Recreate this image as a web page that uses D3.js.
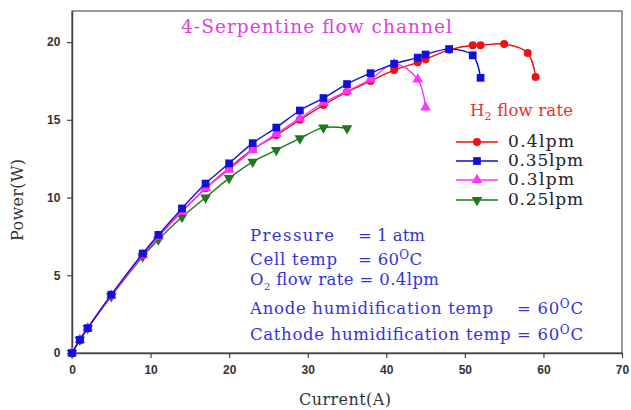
<!DOCTYPE html>
<html><head><meta charset="utf-8">
<script src="https://cdn.jsdelivr.net/npm/d3@7"></script>
<style>body{margin:0;background:#fff}</style>
</head><body>
<svg id="c" width="631" height="410"></svg>
<script>
const xTicks = [0,10,20,30,40,50,60,70];
const yTicks = [0,5,10,15,20];
const current04 = [0,1,2,5,9,11,14,17,20,23,26,29,32,35,38,41,44,45,48,51,52,55,58,59];
const power04 = [0,0.85,1.6,3.7,6.3,7.5,9.1,10.6,11.9,13.1,14.0,15.0,15.95,16.8,17.5,18.2,18.7,18.9,19.5,19.8,19.8,19.87,19.3,17.75];
const current035 = [0,1,2,5,9,11,14,17,20,23,26,29,32,35,38,41,44,45,48,51,52];
const power035 = [0,0.85,1.6,3.75,6.4,7.6,9.3,10.9,12.2,13.5,14.5,15.6,16.4,17.3,18.0,18.6,19.0,19.2,19.55,19.15,17.7];
const current03 = [0,1,2,5,9,11,14,17,20,23,26,29,32,35,38,41,44,45];
const power03 = [0,0.85,1.6,3.7,6.3,7.5,9.1,10.6,11.8,13.05,14.1,15.1,16.1,16.85,17.6,18.6,17.6,15.8];
const current025 = [0,1,2,5,9,11,14,17,20,23,26,29,32,35];
const power025 = [0,0.85,1.6,3.65,6.2,7.3,8.75,10.0,11.25,12.3,13.05,13.8,14.5,14.45];
const seriesNames = ["0.4lpm","0.35lpm","0.3lpm","0.25lpm"];

const series = [
  {name:seriesNames[0], xs:current04, ys:power04, color:"#ee1111", sym:d3.symbolCircle, size:50},
  {name:seriesNames[1], xs:current035, ys:power035, color:"#1010dd", sym:d3.symbolSquare, size:60},
  {name:seriesNames[2], xs:current03, ys:power03, color:"#ff33ff", sym:d3.symbolTriangle, size:50},
  {name:seriesNames[3], xs:current025, ys:power025, color:"#1a7a1a", sym:d3.symbolTriangle, size:50, rot:180}
];

const svg = d3.select("#c");
const L=72, R=622, T=11, B=353;
const x = d3.scaleLinear().domain([0,70]).range([L,R]);
const y = d3.scaleLinear().domain([0,22]).range([B,T]);

svg.append("rect").attr("x",L).attr("y",T).attr("width",R-L).attr("height",B-T)
  .attr("fill","none").attr("stroke","#333").attr("stroke-width",1);

const xa = svg.append("g").attr("transform",`translate(0,${B})`)
  .call(d3.axisBottom(x).tickValues(xTicks).tickSize(5).tickSizeOuter(0));
const ya = svg.append("g").attr("transform",`translate(${L},0)`)
  .call(d3.axisLeft(y).tickValues(yTicks).tickSize(5).tickSizeOuter(0));
[xa,ya].forEach(a=>{
  a.selectAll("path").attr("stroke","#444").attr("stroke-width",1.5);
  a.selectAll("line").attr("stroke","#444").attr("stroke-width",1.2);
  a.selectAll("text").attr("font-family","Liberation Sans, Arial, sans-serif")
    .attr("font-size",12).attr("font-weight","bold").attr("fill","#333");
});
xa.selectAll("text").attr("dy","1.1em");
ya.selectAll("text").attr("dx","-0.3em");

const serif = "DejaVu Serif, serif";
svg.append("text").attr("x",345).attr("y",405).attr("text-anchor","middle")
  .attr("font-family",serif).attr("font-size",16).attr("fill","#333")
  .attr("textLength",92).attr("lengthAdjust","spacing").text("Current(A)");
svg.append("text").attr("transform","translate(23,200) rotate(-90)").attr("text-anchor","middle")
  .attr("font-family",serif).attr("font-size",16).attr("fill","#333")
  .attr("textLength",82).attr("lengthAdjust","spacing").text("Power(W)");

const line = d3.line().x(d=>x(d[0])).y(d=>y(d[1])).curve(d3.curveCatmullRom);
[3,0,2,1].map(i=>series[i]).forEach(s=>{
  const pts = s.xs.map((v,i)=>[v,s.ys[i]]);
  svg.append("path").datum(pts).attr("d",line).attr("fill","none")
    .attr("stroke",s.color).attr("stroke-width",1.4);
  svg.append("g").selectAll("path").data(pts).join("path")
    .attr("transform",d=>`translate(${x(d[0])},${y(d[1])}) rotate(${s.rot||0})`)
    .attr("d",d3.symbol().type(s.sym).size(s.size)).attr("fill",s.color);
});

svg.append("text").attr("x",181).attr("y",33).attr("font-family",serif).attr("font-size",18.5)
  .attr("fill","#e23ee2").attr("textLength",271).attr("lengthAdjust","spacing")
  .text("4-Serpentine flow channel");

const lt = svg.append("text").attr("x",470).attr("y",116).attr("font-family",serif)
  .attr("font-size",16.5).attr("fill","#e83030").attr("textLength",103).attr("lengthAdjust","spacing");
lt.append("tspan").text("H");
lt.append("tspan").attr("font-size",11).attr("dy",4).text("2");
lt.append("tspan").attr("dy",-4).text(" flow rate");
const ly=[142,161,180,200];
const lw=[66,75,66,75];
series.forEach((s,i)=>{
  svg.append("line").attr("x1",456).attr("x2",498).attr("y1",ly[i]).attr("y2",ly[i])
    .attr("stroke",s.color).attr("stroke-width",1.4);
  svg.append("path").attr("transform",`translate(477,${ly[i]}) rotate(${s.rot||0})`)
    .attr("d",d3.symbol().type(s.sym).size(s.size)).attr("fill",s.color);
  svg.append("text").attr("x",508).attr("y",ly[i]+5).attr("font-family",serif)
    .attr("font-size",17).attr("fill","#222").attr("textLength",lw[i]).attr("lengthAdjust","spacing")
    .text(s.name);
});

const blue="#3333dd";
function info(xp,yp,len,parts){
  const t=svg.append("text").attr("x",xp).attr("y",yp).attr("font-family",serif)
    .attr("font-size",16.5).attr("fill",blue).attr("textLength",len).attr("lengthAdjust","spacing");
  parts.forEach(p=>{
    const ts=t.append("tspan").text(p.t);
    if(p.sup){ts.attr("font-size",12).attr("dy",-6);}
    if(p.sub){ts.attr("font-size",10).attr("dy",5);}
    if(p.back){ts.attr("dy",p.back);}
  });
}
info(250,241,84,[{t:"Pressure"}]);
info(358,241,67,[{t:"= 1 atm"}]);
info(250,265,87,[{t:"Cell temp"}]);
info(358,265,64,[{t:"= 60"},{t:"O",sup:true},{t:"C",back:6}]);
info(250,285,189,[{t:"O"},{t:"2",sub:true},{t:" flow rate = 0.4lpm",back:-5}]);
info(250,314,243,[{t:"Anode humidification temp"}]);
info(517,314,66,[{t:"= 60"},{t:"O",sup:true},{t:"C",back:6}]);
info(250,340,333,[{t:"Cathode humidification temp = 60"},{t:"O",sup:true},{t:"C",back:6}]);
</script>
</body></html>
